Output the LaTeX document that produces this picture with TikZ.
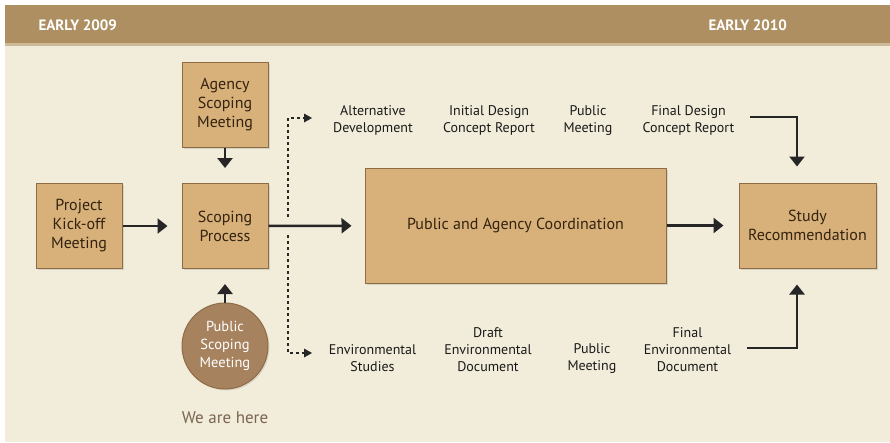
\documentclass[tikz,border=0pt]{standalone}
\usepackage{fontspec}
\setmainfont{PT Sans}
\usepackage{xcolor}
\usepackage{tikz}
\usetikzlibrary{arrows, arrows.meta, positioning, shadows}

\definecolor{bandcol}{HTML}{AD8F62}
\definecolor{creamcol}{HTML}{F2EDDB}
\definecolor{boxcol}{HTML}{D8B07A}
\definecolor{edgecol}{HTML}{8E6C44}
\definecolor{circcol}{HTML}{A7825F}
\definecolor{textcol}{HTML}{33230F}
\definecolor{herecol}{HTML}{7A6650}

\begin{document}
\begin{tikzpicture}[x=1pt, y=-1pt]
		\tikzset{
			box/.style={rectangle, draw=edgecol, line width=1pt, fill=boxcol,
			drop shadow={opacity=0.25, shadow xshift=1.5pt, shadow yshift=-1.5pt},
			align=center, text=textcol, font=\fontsize{16}{19}\selectfont,
			minimum width=86pt, minimum height=85pt, inner sep=2pt},
			lbl/.style={align=center, text=black!90, font=\fontsize{14}{17}\selectfont},
			head/.style={anchor=west, text=white, font=\bfseries\fontsize{15}{17}\selectfont},
			flow/.style={-{Triangle[length=10pt, width=15pt]}, line width=2.5pt, black!85},
			dots/.style={line width=1.3pt, black!85, dash pattern=on 3pt off 3pt},
		}
		% background and time band
		\fill[white] (0,0) rectangle (890,442);
		\fill[creamcol] (5,45) rectangle (890,442);
		\fill[bandcol] (5,5) rectangle (890,43);
		\fill[bandcol!55!creamcol] (5,43) rectangle (890,46);
		\useasboundingbox (0,0) rectangle (890,442);

		\node[head](early1) at (35,25){EARLY 2009};
		\node[head](early2) at (705,25){EARLY 2010};

		% boxes
		\node[box](kickoff) at (79,226){Project\\Kick-off\\Meeting};
		\node[box](scoping) at (225,226){Scoping\\Process};
		\node[box](agency) at (225,105){Agency\\Scoping\\Meeting};
		\node[box, minimum width=301pt, minimum height=115pt](coord) at (515.5,225.5)
			{Public and Agency Coordination};
		\node[box, minimum width=137pt](study) at (807.5,225.5){Study\\Recommendation};
		\node[circle, draw=edgecol, line width=1pt, fill=circcol, minimum size=86pt,
			drop shadow={opacity=0.2, shadow xshift=1.5pt, shadow yshift=-1.5pt},
			align=center, text=white, font=\fontsize{14.5}{18}\selectfont, inner sep=0pt]
			(pubscope) at (225,346){Public\\Scoping\\Meeting};
		\node[text=herecol, font=\fontsize{17}{18}\selectfont](here) at (225,418){We are here};

		% milestones
		\node[lbl](altdev) at (373,120.5){Alternative\\Development};
		\node[lbl](initdesign) at (489,120.5){Initial Design\\Concept Report};
		\node[lbl](pubmeet1) at (588,120.5){Public\\Meeting};
		\node[lbl](finaldesign) at (688.5,120.5){Final Design\\Concept Report};

		\node[lbl](envstudies) at (372.5,358.5){Environmental\\Studies};
		\node[lbl](draftenv) at (488,350){Draft\\Environmental\\Document};
		\node[lbl](pubmeet2) at (592,358.5){Public\\Meeting};
		\node[lbl](finalenv) at (687.5,350){Final\\Environmental\\Document};

		\coordinate(dottop) at (288,118);
		\coordinate(dotgap1) at (288,217);
		\coordinate(dotgap2) at (288,235);
		\coordinate(dotbot) at (288,353);

		% connectors
		\draw[flow, shorten >=14pt](kickoff) -- (scoping);
		\draw[flow, shorten >=15pt](agency) -- (scoping);
		\draw[flow, shorten >=15pt](pubscope) -- (scoping);
		\draw[flow, shorten >=13pt](scoping) -- (coord);
		\draw[flow, shorten >=15pt](coord) -- (study);

		\draw[dots](dotgap1) -- (dottop) -- ++(16,0);
		\draw[dots](dotgap2) -- (dotbot) -- ++(16,0);
		\fill[black!85](312,118) -- (304,113.5) -- (304,122.5) -- cycle;
		\fill[black!85](312,353) -- (304,348.5) -- (304,357.5) -- cycle;

		\draw[flow, shorten >=16pt]([xshift=12pt, yshift=3.5pt]finaldesign.east)
			-| ([xshift=-10.5pt]study.north);
		\draw[flow, shorten >=16pt]([xshift=12pt, yshift=2pt]finalenv.east)
			-| ([xshift=-10.5pt]study.south);

	\end{tikzpicture}
\end{document}
